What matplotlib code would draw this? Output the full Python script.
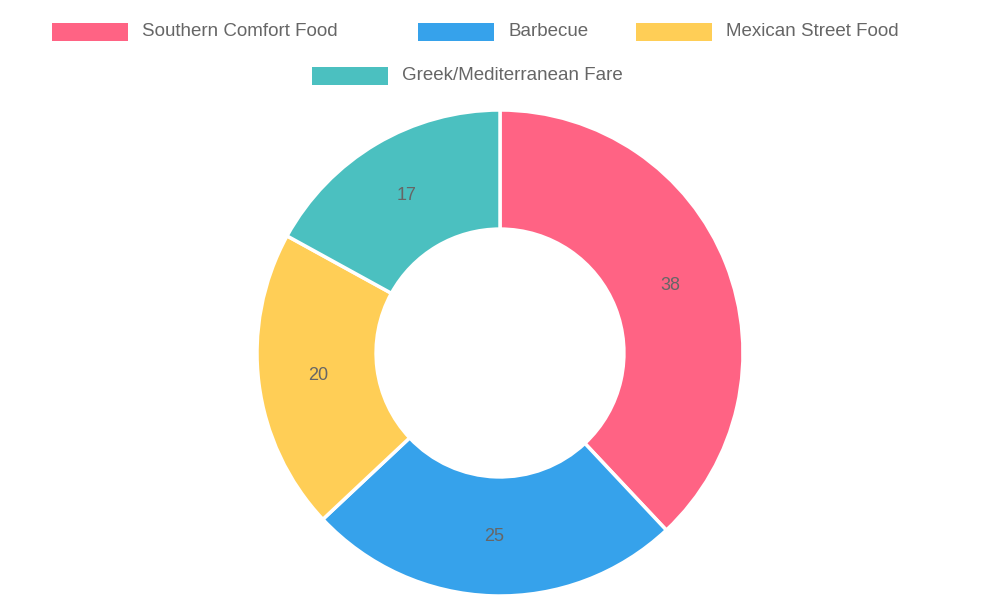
import matplotlib.pyplot as plt
from matplotlib.patches import Rectangle

labels = ["Southern Comfort Food", "Barbecue", "Mexican Street Food", "Greek/Mediterranean Fare"]
values = [38, 25, 20, 17]
colors = ["#FF6384", "#36A2EB", "#FFCE56", "#4BC0C0"]

fig = plt.figure(figsize=(10, 6), dpi=100)
plt.rcParams['font.family'] = ['Liberation Sans', 'DejaVu Sans']

# doughnut
ax = fig.add_axes([(500 - 243) / 1000, (247 - 243) / 600, 0.486, 0.81])
wedges, _ = ax.pie(values, colors=colors, startangle=90, counterclock=False, radius=1,
                   wedgeprops=dict(width=0.49, edgecolor="white", linewidth=2.5))
ax.set_xlim(-1, 1)
ax.set_ylim(-1, 1)
ax.set_aspect("equal")
ax.axis("off")

import numpy as np
for w, v in zip(wedges, values):
    ang = np.deg2rad((w.theta1 + w.theta2) / 2)
    ax.text(0.755 * np.cos(ang), 0.755 * np.sin(ang), str(v), ha="center", va="center",
            fontsize=13, color="#666666")

# legend, drawn by hand (two centered rows)
legend_pos = [(52, 32), (418, 32), (636, 32), (312, 76)]
for (x, y), lab, col in zip(legend_pos, labels, colors):
    fig.patches.append(Rectangle((x / 1000, (600 - y - 9) / 600), 76 / 1000, 18 / 600,
                                 transform=fig.transFigure, facecolor=col, edgecolor="none"))
    fig.text((x + 90) / 1000, (600 - y) / 600, lab, ha="left", va="center",
             fontsize=13.5, color="#666666")

fig.savefig("out.png", dpi=100)
